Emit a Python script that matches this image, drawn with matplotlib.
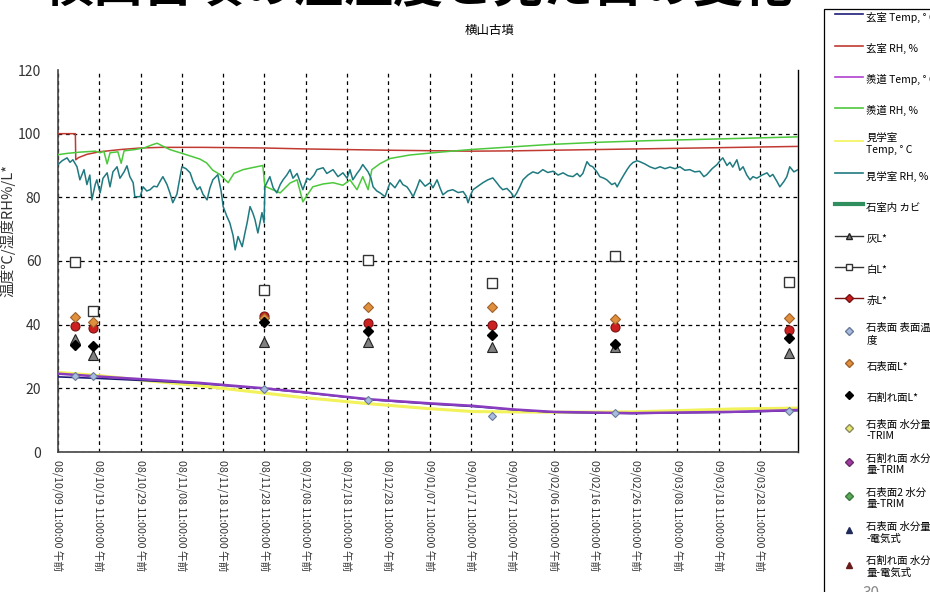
import matplotlib.pyplot as plt
import matplotlib.dates as mdates
from matplotlib.lines import Line2D
from matplotlib.patches import Rectangle
import numpy as np
import pandas as pd

plt.rcParams['font.family'] = ['Noto Sans CJK JP', 'DejaVu Sans']

start = pd.Timestamp('2008-10-09 11:00')
span_days = 179.2

# temperatures (days since start)
temp_days = [0, 10, 20, 34.4, 50, 58.6, 75, 90, 100.5, 110, 120, 139, 150, 163, 179.2]
genshitsu_temp = [23.6, 23.1, 22.5, 21.5, 19.9, 18.8, 16.5, 15.1, 14.3, 13.3, 12.5, 12.1, 12.3, 12.5, 13.0]
sendo_temp = [24.6, 23.7, 22.9, 21.7, 20.0, 18.9, 16.6, 15.3, 14.5, 13.4, 12.6, 12.2, 12.4, 12.6, 13.2]
kengaku_temp = [25.0, 24.0, 22.6, 20.8, 18.5, 17.2, 15.2, 13.6, 12.7, 12.6, 12.5, 12.6, 13.0, 13.5, 13.8]

# 玄室 RH
genshitsu_rh_days = [0, 4.2, 4.3, 5, 7, 10, 15, 20, 25, 35, 50, 60, 70, 80, 100, 110, 120, 140, 160, 179.2]
genshitsu_rh = [100, 100, 91.8, 92.5, 93.5, 94.3, 95.0, 95.5, 95.7, 95.7, 95.5, 95.2, 95.0, 94.8, 94.5, 94.6, 94.8, 95.2, 95.6, 96.0]

# 羨道 RH
sendo_rh_days = [0, 2.2, 5.3, 9.0, 10.2, 11.1, 11.9, 12.6, 14.5, 15.3, 16.0, 18.6, 21.0, 22.8, 24.0, 25.2,
                 27.1, 30.8, 34.4, 36.0, 37.5, 39.2, 41.2, 42.6, 44.8, 47.7, 49.6, 50.1, 51.8, 53.8, 56.2,
                 57.9, 59.3, 60.5, 61.7, 64.2, 66.6, 69.0, 70.7, 72.4, 73.8, 75.1, 76.0, 78.0, 80.4, 85.2,
                 90.8, 99.8, 107.0, 119.0, 131.0, 143.0, 155.4, 167.6, 179.2]
sendo_rh = [93.4, 93.8, 94.2, 94.5, 94.0, 94.5, 90.5, 94.0, 94.3, 90.7, 94.6, 95.0, 95.6, 96.5, 97.0, 96.2,
            95.0, 93.5, 92.0, 90.8, 88.5, 87.2, 84.6, 87.5, 88.7, 89.5, 90.0, 83.5, 82.5, 81.4, 84.5,
            85.5, 78.6, 81.0, 83.3, 84.2, 84.6, 83.8, 85.5, 82.4, 86.5, 82.4, 88.7, 90.6, 92.2, 93.3,
            94.0, 95.0, 95.6, 96.6, 97.3, 97.8, 98.2, 98.6, 99.0]

# 見学室 RH
kengaku_rh_days = [0, 1.0, 2.2, 2.9, 3.6, 4.6, 5.3, 6.3, 7.0, 7.7, 8.2, 9.0, 9.4, 10.2, 10.9, 11.9, 12.6,
                   13.3, 14.3, 15.0, 16.0, 16.7, 17.4, 18.2, 18.6, 19.9, 20.6, 21.5, 22.3, 23.2, 24.0,
                   24.7, 25.4, 26.4, 27.1, 27.8, 28.8, 29.5, 30.0, 31.0, 32.0, 32.7, 33.7, 34.4, 35.1,
                   36.1, 36.8, 37.5, 38.7, 39.5, 40.0, 40.9, 41.6, 42.4, 42.9, 43.6, 44.6, 45.3, 45.8,
                   46.5, 47.2, 47.7, 48.4, 49.4, 49.9, 50.1, 51.3, 52.1, 53.0, 53.8, 54.5, 55.4, 56.2,
                   56.9, 57.9, 58.6, 59.3, 60.3, 61.0, 62.0, 62.7, 64.2, 65.1, 66.6, 67.8, 69.0, 70.0,
                   70.7, 71.4, 72.4, 73.1, 73.8, 75.1, 75.8, 76.3, 77.2, 78.0, 79.2, 80.4, 81.6, 82.8,
                   83.5, 84.5, 85.2, 86.0, 86.9, 87.6, 88.9, 90.1, 90.8, 91.8, 92.5, 93.2, 94.4, 95.6,
                   96.9, 98.1, 98.8, 99.3, 100.0, 100.5, 101.7, 102.9, 104.1, 105.3, 106.3, 107.0, 107.7,
                   108.7, 109.7, 110.4, 111.1, 111.9, 112.6, 113.8, 115.0, 116.2, 117.4, 118.6, 119.9,
                   121.1, 122.3, 123.5, 124.7, 125.7, 126.4, 127.1, 128.1, 128.8, 129.5, 130.5, 131.2,
                   132.2, 132.9, 134.1, 134.9, 135.4, 136.1, 137.0, 137.8, 138.5, 139.2, 140.2, 140.9,
                   142.1, 143.3, 144.6, 145.8, 147.0, 148.2, 149.4, 150.6, 151.8, 153.0, 154.2, 155.4,
                   156.4, 157.1, 158.4, 159.6, 160.3, 161.0, 162.0, 162.7, 163.4, 164.4, 165.1, 165.9,
                   166.8, 167.6, 168.3, 169.2, 170.5, 171.7, 172.4, 173.1, 174.1, 174.8, 175.8, 176.5,
                   177.2, 178.2, 179.2]
kengaku_rh = [90.3, 91.5, 92.4, 91.0, 91.8, 89.6, 85.5, 88.7, 84.0, 87.0, 79.2, 84.0, 85.5, 81.4, 86.0, 87.7, 83.3,
              88.0, 89.6, 86.0, 88.0, 89.9, 86.5, 84.6, 80.2, 80.2, 83.3, 82.0, 82.4, 83.5, 83.3,
              85.0, 86.5, 84.0, 81.4, 78.3, 81.0, 86.0, 89.6, 89.0, 87.7, 85.0, 82.4, 83.3, 81.0,
              79.2, 83.0, 85.5, 87.1, 82.0, 77.1, 74.0, 72.0, 68.0, 63.5, 67.7, 64.5, 69.0, 72.0,
              77.1, 75.0, 73.0, 68.8, 75.2, 72.0, 83.3, 86.5, 83.0, 81.4, 84.0, 85.5, 87.0, 88.7,
              86.0, 87.5, 85.0, 82.4, 86.0, 85.5, 87.0, 88.7, 89.3, 87.5, 88.7, 86.5, 87.7, 86.0,
              88.7, 85.5, 87.5, 88.7, 90.3, 88.0, 86.0, 83.3, 82.0, 81.4, 80.2, 84.6, 83.0, 85.5,
              84.0, 83.3, 82.0, 80.2, 83.0, 85.5, 83.5, 84.6, 83.0, 85.5, 83.0, 80.8, 82.0, 82.4,
              81.5, 81.8, 80.5, 78.3, 81.0, 82.4, 83.5, 84.6, 85.5, 86.1, 84.5, 83.3, 82.4,
              82.8, 81.5, 80.0, 81.4, 83.5, 85.5, 87.0, 88.0, 87.5, 88.7, 87.8, 88.2,
              87.0, 87.7, 86.8, 86.5, 87.5, 86.5, 87.5, 91.2, 90.0, 89.6, 88.0, 86.5,
              86.0, 85.5, 84.0, 84.5, 83.3, 85.0, 87.0, 88.7, 90.0, 90.9, 91.5, 91.2,
              90.5, 89.6, 89.0, 89.6, 89.0, 89.5, 89.0, 89.6, 88.5, 88.7, 88.0, 88.2,
              86.5, 87.1, 89.0, 90.3, 91.5, 92.4, 90.0, 91.0, 89.5, 91.8, 88.5, 89.6,
              87.0, 85.5, 86.5, 86.0, 87.0, 87.7, 86.5, 87.2, 85.0, 83.3, 85.0, 86.5,
              89.6, 88.0, 88.7]

# point measurements
sample_dates = ['2008-10-13 11:00', '2008-10-17 23:00', '2008-11-28 11:00', '2008-12-23 11:00',
                '2009-01-22 11:00', '2009-02-21 11:00', '2009-04-04 11:00']
hai_L = [35.6, 30.5, 34.7, 34.7, 33.1, 32.9, 31.2]
shiro_L = [59.7, 44.2, 50.9, 60.2, 53.2, 61.7, 53.4]
aka_L = [39.6, 39.0, 42.7, 40.5, 39.9, 39.2, 38.2]
surface_temp = [24.0, 24.0, 19.8, 16.4, 11.4, 12.1, 13.0]
surface_L = [42.4, 40.8, 42.0, 45.4, 45.7, 41.7, 42.0]
broken_L = [33.7, 33.3, 40.7, 38.0, 36.6, 34.0, 35.7]


def to_dates(days):
    return start + pd.to_timedelta(np.asarray(days, dtype=float), unit='D')


fig = plt.figure(figsize=(9.3, 5.92), dpi=100)
ax = fig.add_axes([58 / 930, 140 / 592, 740 / 930, 382 / 592])

ax.plot(to_dates(temp_days), kengaku_temp, color='#f2f25a', lw=2.2, zorder=2)
ax.plot(to_dates(temp_days), genshitsu_temp, color='#1c1c78', lw=1.2, zorder=3)
ax.plot(to_dates(temp_days), sendo_temp, color='#8a3cc0', lw=1.8, zorder=3)
ax.plot(to_dates(genshitsu_rh_days), genshitsu_rh, color='#c03a32', lw=1.1, zorder=3)
ax.plot(to_dates(sendo_rh_days), sendo_rh, color='#4cc83c', lw=1.1, zorder=3)
ax.plot(to_dates(kengaku_rh_days), kengaku_rh, color='#1f7a80', lw=1.1, zorder=4)

sd = pd.to_datetime(sample_dates)
ax.plot(sd, hai_L, ls='none', marker='^', ms=7, mfc='#808080', mec='#222222', mew=0.8, zorder=5)
ax.plot(sd, shiro_L, ls='none', marker='s', ms=7, mfc='white', mec='#333333', mew=1.0, zorder=5)
ax.plot(sd, aka_L, ls='none', marker='o', ms=6.5, mfc='#cc1f1f', mec='#7a1010', mew=0.8, zorder=5)
ax.plot(sd, surface_temp, ls='none', marker='D', ms=4.5, mfc='#a8bce0', mec='#6a7a9a', mew=0.8, zorder=5)
ax.plot(sd, surface_L, ls='none', marker='D', ms=5.5, mfc='#e0903c', mec='#a0602a', mew=0.8, zorder=5)
ax.plot(sd, broken_L, ls='none', marker='D', ms=5.5, mfc='black', mec='black', zorder=6)

ax.set_xlim(start, start + pd.Timedelta(days=span_days))
ax.set_ylim(0, 120)
ax.set_yticks(range(0, 121, 20))
tick_dates = pd.date_range(start, '2009-03-28 11:00', freq='10D')
ax.set_xticks(tick_dates)
ax.xaxis.set_major_formatter(mdates.DateFormatter('%y/%m/%d %I:%M:%S 午前'))
ax.tick_params(axis='x', labelrotation=270, labelsize=7.7, length=0, pad=6, colors='#333333')
ax.tick_params(axis='y', labelsize=10, length=0, pad=12, colors='#333333')
for lbl in ax.get_xticklabels():
    lbl.set_va('top')
    lbl.set_ha('center')

ax.grid(True, color='black', ls=(0, (3, 3)), lw=0.9, zorder=1)
ax.yaxis.get_gridlines()[-1].set_visible(False)
ax.set_axisbelow(True)
ax.spines['top'].set_visible(False)
for s in ['left', 'bottom']:
    ax.spines[s].set_color('#444444')
    ax.spines[s].set_linewidth(1.2)
ax.spines['right'].set_color('black')
ax.spines['right'].set_linewidth(1.0)

ax.set_ylabel('温度℃/湿度RH%/L*', fontsize=10.5, color='#333333')
ax.yaxis.set_label_coords(-0.057, 0.58)

fig.text(490 / 930, 1 - 30 / 592, '横山古墳', ha='center', va='center', fontsize=9)
fig.text(0.45, 1 - 2 / 592, '横山古墳の温湿度と見た目の変化', ha='center', va='baseline',
         fontsize=36, fontweight='bold')
fig.text(871 / 930, 1 - 585 / 592, '30', ha='center', va='top', fontsize=11, color='#888888')

# legend
handles = [
    Line2D([], [], color='#1c1c78', lw=1.2),
    Line2D([], [], color='#c03a32', lw=1.2),
    Line2D([], [], color='#b040d0', lw=1.2),
    Line2D([], [], color='#4cc83c', lw=1.2),
    Line2D([], [], color='#f2f25a', lw=1.2),
    Line2D([], [], color='#1f7a80', lw=1.2),
    Line2D([], [], color='#2f8f5f', lw=3),
    Line2D([], [], color='#333333', lw=1, marker='^', ms=5, mfc='#808080', mec='#222222'),
    Line2D([], [], color='#333333', lw=1, marker='s', ms=5, mfc='white', mec='#333333'),
    Line2D([], [], color='#7a1010', lw=1, marker='D', ms=4.5, mfc='#cc1f1f', mec='#7a1010'),
    Line2D([], [], ls='none', marker='D', ms=4, mfc='#a8bce0', mec='#6a7a9a'),
    Line2D([], [], ls='none', marker='D', ms=4, mfc='#e0903c', mec='#a0602a'),
    Line2D([], [], ls='none', marker='D', ms=4, mfc='black', mec='black'),
    Line2D([], [], ls='none', marker='D', ms=4, mfc='#e8e870', mec='#8a8a5a'),
    Line2D([], [], ls='none', marker='D', ms=4, mfc='#a03aa0', mec='#6a2a6a'),
    Line2D([], [], ls='none', marker='D', ms=4, mfc='#5aaa5a', mec='#3a7a3a'),
    Line2D([], [], ls='none', marker='^', ms=5, mfc='#1f2a5a', mec='#1f2a5a'),
    Line2D([], [], ls='none', marker='^', ms=5, mfc='#6b1a1a', mec='#6b1a1a'),
]
labels = ['玄室 Temp, ° C', '玄室 RH, %', '羨道 Temp, ° C', '羨道 RH, %', '見学室\nTemp, ° C',
          '見学室 RH, %', '石室内 カビ', '灰L*', '白L*', '赤L*', '石表面 表面温\n度', '石表面L*',
          '石割れ面L*', '石表面 水分量\n-TRIM', '石割れ面 水分\n量-TRIM', '石表面2 水分\n量-TRIM',
          '石表面 水分量\n-電気式', '石割れ面 水分\n量-電気式']
fig.legend(handles, labels, loc='upper left', bbox_to_anchor=(835 / 930, 1 - 8 / 592),
           frameon=False, fontsize=7.5, handlelength=2.7, handletextpad=0.3,
           handleheight=2.4, labelspacing=1.19, borderpad=0, borderaxespad=0)
fig.add_artist(Rectangle((824 / 930, -0.02), 0.2, 1.02 - 9 / 592, transform=fig.transFigure,
                         fill=False, ec='black', lw=0.9))

fig.savefig('out.png', dpi=100)
